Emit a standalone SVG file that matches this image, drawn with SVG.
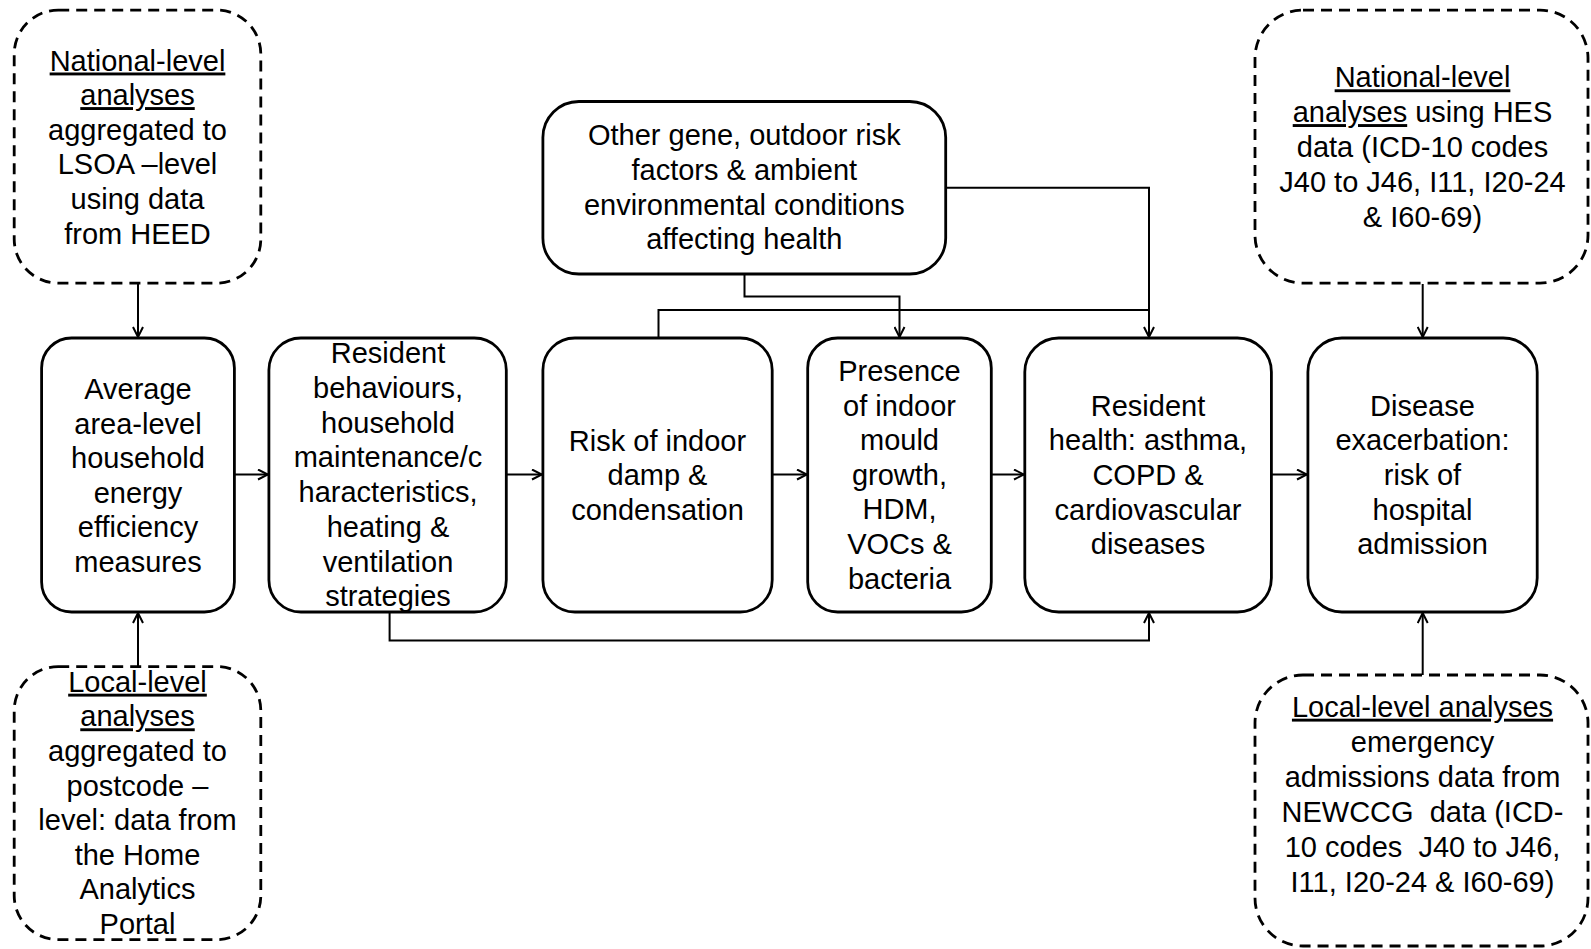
<svg xmlns="http://www.w3.org/2000/svg" width="1591" height="949" viewBox="0 0 1591 949">
<style>
.bx{fill:#fff;stroke:#000;stroke-width:2.8}
.ds{fill:#fff;stroke:#000;stroke-width:2.8;stroke-dasharray:11 7}
.t{font-family:"Liberation Sans",Arial,sans-serif;font-size:29px;fill:#000;text-anchor:middle}
.u{text-decoration:underline}
.c{fill:none;stroke:#000;stroke-width:2}
</style>
<defs>
<marker id="ah" viewBox="0 0 12 12" refX="11" refY="6" markerWidth="12" markerHeight="12" markerUnits="userSpaceOnUse" orient="auto">
<path d="M1,1 L11,6 L1,11" fill="none" stroke="#000" stroke-width="2"/>
</marker>
</defs>
<g id="connectors">
<path class="c" d="M138,284 V337" marker-end="url(#ah)"/>
<path class="c" d="M138,666 V613" marker-end="url(#ah)"/>
<path class="c" d="M234.5,474.5 H268" marker-end="url(#ah)"/>
<path class="c" d="M506.5,474.5 H542" marker-end="url(#ah)"/>
<path class="c" d="M772.5,474.5 H807" marker-end="url(#ah)"/>
<path class="c" d="M991.5,474.5 H1024" marker-end="url(#ah)"/>
<path class="c" d="M1271.5,474.5 H1307" marker-end="url(#ah)"/>
<path class="c" d="M744.5,274 V296.5 H899.5 V337" marker-end="url(#ah)"/>
<path class="c" d="M658.5,338 V310 H1149"/>
<path class="c" d="M945.7,187.7 H1149 V337" marker-end="url(#ah)"/>
<path class="c" d="M389.6,612 V640.5 H1149 V613" marker-end="url(#ah)"/>
<path class="c" d="M1422.7,284 V337" marker-end="url(#ah)"/>
<path class="c" d="M1422.7,676 V613" marker-end="url(#ah)"/>
</g>
<g id="national-heed">
<rect class="ds" x="14.2" y="10.1" width="246.6" height="273" rx="44"/>
<text class="t" x="137.5" y="70.5"><tspan class="u">National-level</tspan></text>
<text class="t" x="137.5" y="105.1"><tspan class="u">analyses</tspan></text>
<text class="t" x="137.5" y="139.7">aggregated to</text>
<text class="t" x="137.5" y="174.3">LSOA –level</text>
<text class="t" x="137.5" y="208.9">using data</text>
<text class="t" x="137.5" y="243.5">from HEED</text>
</g>
<g id="local-home">
<rect class="ds" x="14.2" y="666.6" width="246.6" height="273" rx="44"/>
<text class="t" x="137.5" y="691.7"><tspan class="u">Local-level</tspan></text>
<text class="t" x="137.5" y="726.3"><tspan class="u">analyses</tspan></text>
<text class="t" x="137.5" y="760.9">aggregated to</text>
<text class="t" x="137.5" y="795.5">postcode –</text>
<text class="t" x="137.5" y="830.1">level: data from</text>
<text class="t" x="137.5" y="864.7">the Home</text>
<text class="t" x="137.5" y="899.3">Analytics</text>
<text class="t" x="137.5" y="933.9">Portal</text>
</g>
<g id="energy">
<rect class="bx" x="41.6" y="338" width="192.8" height="274" rx="30"/>
<text class="t" x="138" y="399">Average</text>
<text class="t" x="138" y="433.6">area-level</text>
<text class="t" x="138" y="468.2">household</text>
<text class="t" x="138" y="502.8">energy</text>
<text class="t" x="138" y="537.4">efficiency</text>
<text class="t" x="138" y="572">measures</text>
</g>
<g id="behaviours">
<rect class="bx" x="268.9" y="338" width="237.4" height="274" rx="32"/>
<text class="t" x="388" y="363.3">Resident</text>
<text class="t" x="388" y="398">behaviours,</text>
<text class="t" x="388" y="432.7">household</text>
<text class="t" x="388" y="467.4">maintenance/c</text>
<text class="t" x="388" y="502.1">haracteristics,</text>
<text class="t" x="388" y="536.8">heating &amp;</text>
<text class="t" x="388" y="571.5">ventilation</text>
<text class="t" x="388" y="606.2">strategies</text>
</g>
<g id="damp">
<rect class="bx" x="542.9" y="338" width="229.3" height="274" rx="32"/>
<text class="t" x="657.5" y="450.7">Risk of indoor</text>
<text class="t" x="657.5" y="485.4">damp &amp;</text>
<text class="t" x="657.5" y="520.1">condensation</text>
</g>
<g id="other-factors">
<rect class="bx" x="542.9" y="101.5" width="402.8" height="172.5" rx="36"/>
<text class="t" x="744.3" y="145">Other gene, outdoor risk</text>
<text class="t" x="744.3" y="179.8">factors &amp; ambient</text>
<text class="t" x="744.3" y="214.6">environmental conditions</text>
<text class="t" x="744.3" y="249.4">affecting health</text>
</g>
<g id="mould">
<rect class="bx" x="807.7" y="338" width="183.6" height="274" rx="30"/>
<text class="t" x="899.5" y="381">Presence</text>
<text class="t" x="899.5" y="415.6">of indoor</text>
<text class="t" x="899.5" y="450.2">mould</text>
<text class="t" x="899.5" y="484.8">growth,</text>
<text class="t" x="899.5" y="519.4">HDM,</text>
<text class="t" x="899.5" y="554">VOCs &amp;</text>
<text class="t" x="899.5" y="588.6">bacteria</text>
</g>
<g id="health">
<rect class="bx" x="1024.8" y="338" width="246.6" height="274" rx="34"/>
<text class="t" x="1148" y="415.7">Resident</text>
<text class="t" x="1148" y="450.3">health: asthma,</text>
<text class="t" x="1148" y="484.9">COPD &amp;</text>
<text class="t" x="1148" y="519.5">cardiovascular</text>
<text class="t" x="1148" y="554.1">diseases</text>
</g>
<g id="admission">
<rect class="bx" x="1307.9" y="338" width="229.3" height="274" rx="34"/>
<text class="t" x="1422.5" y="415.7">Disease</text>
<text class="t" x="1422.5" y="450.3">exacerbation:</text>
<text class="t" x="1422.5" y="484.9">risk of</text>
<text class="t" x="1422.5" y="519.5">hospital</text>
<text class="t" x="1422.5" y="554.1">admission</text>
</g>
<g id="national-hes">
<rect class="ds" x="1255" y="10.1" width="333" height="273" rx="48"/>
<text class="t" x="1422.5" y="87.3"><tspan class="u">National-level</tspan></text>
<text class="t" x="1422.5" y="122.1"><tspan class="u">analyses</tspan> using HES</text>
<text class="t" x="1422.5" y="156.9">data (ICD-10 codes</text>
<text class="t" x="1422.5" y="191.7">J40 to J46, I11, I20-24</text>
<text class="t" x="1422.5" y="226.5">&amp; I60-69)</text>
</g>
<g id="local-newccg">
<rect class="ds" x="1255" y="675" width="333" height="271" rx="48"/>
<text class="t" x="1422.5" y="716.7"><tspan class="u">Local-level analyses</tspan></text>
<text class="t" x="1422.5" y="751.7">emergency</text>
<text class="t" x="1422.5" y="786.7">admissions data from</text>
<text class="t" x="1422.5" y="821.7" xml:space="preserve">NEWCCG  data (ICD-</text>
<text class="t" x="1422.5" y="856.7" xml:space="preserve">10 codes  J40 to J46,</text>
<text class="t" x="1422.5" y="891.7">I11, I20-24 &amp; I60-69)</text>
</g>
</svg>
